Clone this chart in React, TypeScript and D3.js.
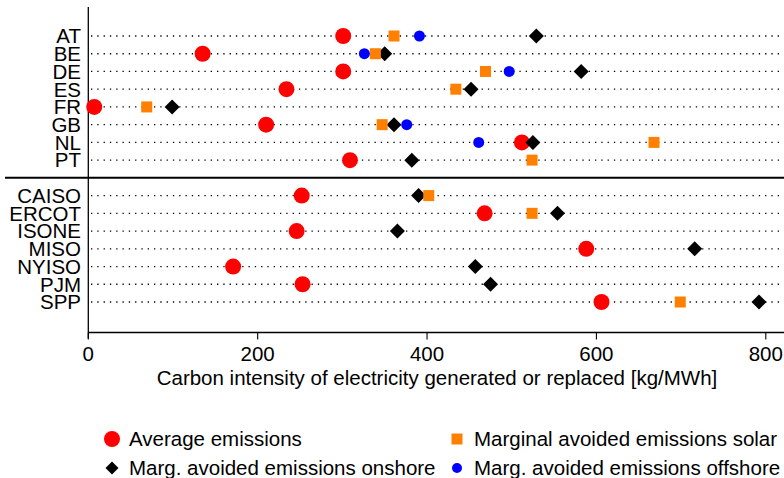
import React from "react";
import * as d3 from "d3";

// Regions: European countries, a blank separator slot, then US grid operators
const regionsEU = ["AT", "BE", "DE", "ES", "FR", "GB", "NL", "PT"];
const regionsUS = ["CAISO", "ERCOT", "ISONE", "MISO", "NYISO", "PJM", "SPP"];
const GAP = "__gap__";
const rows = [...regionsEU, GAP, ...regionsUS];

// Carbon intensity in kg/MWh (null = not available)
const averageEmissions = [301, 135, 301, 234, 7, 210, 512, 309, 252, 468, 246, 588, 171, 253, 606];
const marginalSolar = [361, 339, 469, 434, 69, 347, 668, 524, 402, 524, null, null, null, null, 699];
const marginalOnshore = [529, 350, 582, 452, 99, 361, 525, 382, 390, 554, 365, 716, 457, 475, 792];
const marginalOffshore = [391, 326, 497, null, null, 376, 461, null, null, null, null, null, null, null, null];

const xTicks = [0, 200, 400, 600, 800];
const xLabel = "Carbon intensity of electricity generated or replaced [kg/MWh]";

const legendItems = [
  { label: "Average emissions", kind: "avg" },
  { label: "Marginal avoided emissions solar", kind: "solar" },
  { label: "Marg. avoided emissions onshore", kind: "onshore" },
  { label: "Marg. avoided emissions offshore", kind: "offshore" },
];

const W = 784;
const H = 478;
const FONT = "'Liberation Sans', Arial, Helvetica, sans-serif";
const FS = 20.5;

const COLORS = {
  avg: "#ff0000",
  solar: "#ff8000",
  onshore: "#000000",
  offshore: "#0000ff",
};

const allRegions = [...regionsEU, ...regionsUS];

function Marker({ kind, x, y, legend = false }: { kind: string; x: number; y: number; legend?: boolean }) {
  if (kind === "avg") return <circle cx={x} cy={y} r={8} fill={COLORS.avg} />;
  if (kind === "offshore") return <circle cx={x} cy={y} r={legend ? 5 : 5.5} fill={COLORS.offshore} />;
  if (kind === "solar") {
    const s = 11;
    return <rect x={x - s / 2} y={y - s / 2} width={s} height={s} fill={COLORS.solar} />;
  }
  const d = legend ? 6.5 : 7.5;
  return <path d={`M${x},${y - d}L${x + d},${y}L${x},${y + d}L${x - d},${y}Z`} fill={COLORS.onshore} />;
}

export default function App() {
  const x = d3.scaleLinear().domain([0, 800]).range([88.3, 765.8]);
  const y = d3.scalePoint<string>().domain(rows).range([36, 302]);

  const axisY = 332.5;
  const plotTop = 7;
  const sepY = y(GAP)!;

  const series: { kind: string; values: (number | null)[] }[] = [
    { kind: "avg", values: averageEmissions },
    { kind: "onshore", values: marginalOnshore },
    { kind: "solar", values: marginalSolar },
    { kind: "offshore", values: marginalOffshore },
  ];

  return (
    <svg width={W} height={H} style={{ position: "absolute", left: 0, top: 0, background: "#fff" }} fontFamily={FONT}>
      {/* dotted guide lines */}
      {allRegions.map((r) => (
        <line
          key={"g" + r}
          x1={91}
          x2={W}
          y1={y(r)}
          y2={y(r)}
          stroke="#000"
          strokeWidth={1.3}
          strokeDasharray="1.3 5"
        />
      ))}

      {/* separator between Europe and US */}
      <line x1={5} x2={W} y1={sepY} y2={sepY} stroke="#000" strokeWidth={2} />

      {/* axes */}
      <line x1={x(0)} x2={x(0)} y1={plotTop} y2={axisY + 6} stroke="#000" strokeWidth={1.3} />
      <line x1={x(0)} x2={W} y1={axisY} y2={axisY} stroke="#000" strokeWidth={1.3} />
      {xTicks.map((t) => (
        <g key={"t" + t}>
          <line x1={x(t)} x2={x(t)} y1={axisY} y2={axisY + 7} stroke="#000" strokeWidth={1.1} />
          <text x={x(t)} y={360.5} textAnchor="middle" fontSize={FS} fill="#000">
            {t}
          </text>
        </g>
      ))}
      <text x={437} y={385} textAnchor="middle" fontSize={FS} fill="#000">
        {xLabel}
      </text>

      {/* region labels */}
      {allRegions.map((r) => (
        <text key={"l" + r} x={81} y={y(r)! + 7.3} textAnchor="end" fontSize={FS} fill="#000">
          {r}
        </text>
      ))}

      {/* markers */}
      {series.map((s) =>
        s.values.map((v, i) =>
          v == null ? null : <Marker key={s.kind + i} kind={s.kind} x={x(v)} y={y(allRegions[i])!} />
        )
      )}

      {/* legend */}
      {legendItems.map((item, i) => {
        const col = i % 2;
        const row = Math.floor(i / 2);
        const mx = col === 0 ? 112 : 457;
        const my = row === 0 ? 439 : 468;
        return (
          <g key={item.kind}>
            <Marker kind={item.kind} x={mx} y={my} legend />
            <text x={mx + 17} y={my + 7.3} fontSize={FS} fill="#000">
              {item.label}
            </text>
          </g>
        );
      })}
    </svg>
  );
}
